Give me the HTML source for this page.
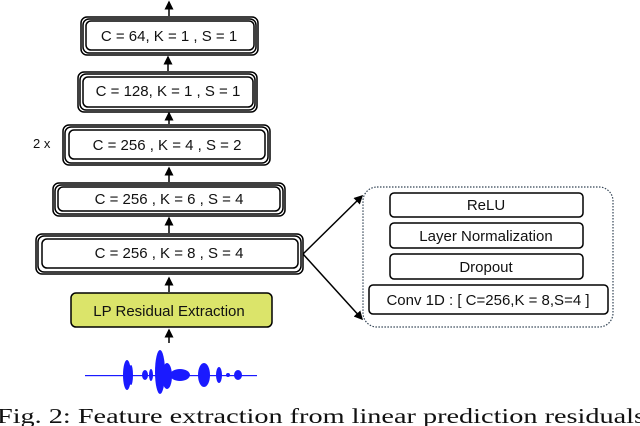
<!DOCTYPE html>
<html><head><style>
html,body{margin:0;padding:0;background:#fff;width:640px;height:426px;overflow:hidden}
svg{display:block}
.t{font-family:"Liberation Sans",sans-serif;font-size:15px;fill:#111}
</style></head><body>
<svg width="640" height="426" viewBox="0 0 640 426">
<defs><marker id="a" markerWidth="6" markerHeight="6" refX="5" refY="3" orient="auto"><path d="M0,0 L6,3 L0,6z" fill="#000"/></marker></defs>
<g fill="#fff" stroke="#000" stroke-width="1.5">
<!-- box1 -->
<rect x="81" y="17" width="177" height="38" rx="6"/><rect x="83" y="19" width="173" height="34" rx="6"/><rect x="86" y="21" width="168" height="29" rx="5"/>
<!-- box2 -->
<rect x="78" y="72" width="179" height="40" rx="6"/><rect x="80" y="74" width="175" height="36" rx="6"/><rect x="83" y="77" width="170" height="30" rx="5"/>
<!-- box3 -->
<rect x="63" y="125" width="207" height="40" rx="6"/><rect x="65" y="127" width="203" height="36" rx="6"/><rect x="69" y="130" width="196" height="29" rx="5"/>
<!-- box4 -->
<rect x="53" y="183" width="232" height="33" rx="6"/><rect x="55" y="185" width="228" height="29" rx="6"/><rect x="58" y="187" width="222" height="24" rx="5"/>
<!-- box5 -->
<rect x="36" y="234" width="267" height="40" rx="6"/><rect x="38" y="236" width="263" height="36" rx="6"/><rect x="42" y="239" width="256" height="29" rx="5"/>
</g>
<rect x="71" y="293" width="201" height="34" rx="5" fill="#dbe46a" stroke="#000" stroke-width="1.5"/>
<g stroke="#000" stroke-width="1.5" marker-end="url(#a)">
<line x1="169" y1="16" x2="169" y2="2"/>
<line x1="168" y1="71" x2="168" y2="57"/>
<line x1="169" y1="124" x2="169" y2="113"/>
<line x1="169" y1="182" x2="169" y2="168"/>
<line x1="169" y1="233" x2="169" y2="218"/>
<line x1="169" y1="292" x2="169" y2="278"/>
<line x1="169" y1="343" x2="169" y2="330"/>
<line x1="303" y1="254" x2="362" y2="196"/>
<line x1="303" y1="254" x2="362" y2="319"/>
</g>
<text class="t" x="169" y="41" text-anchor="middle">C = 64, K = 1 , S = 1</text>
<text class="t" x="168" y="96" text-anchor="middle">C = 128, K = 1 , S = 1</text>
<text class="t" x="167" y="150" text-anchor="middle">C = 256 , K = 4 , S = 2</text>
<text class="t" x="169" y="204" text-anchor="middle">C = 256 , K = 6 , S = 4</text>
<text class="t" x="169" y="258" text-anchor="middle">C = 256 , K = 8 , S = 4</text>
<text class="t" x="169" y="316" text-anchor="middle">LP Residual Extraction</text>
<text class="t" x="33" y="148" style="font-size:13px">2 x</text>
<rect x="363" y="187" width="250" height="140" rx="14" fill="none" stroke="#345" stroke-width="1.2" stroke-dasharray="1.5,1.5"/>
<g fill="#fff" stroke="#000" stroke-width="1.5">
<rect x="390" y="193" width="193" height="24" rx="4"/>
<rect x="390" y="223" width="193" height="25" rx="4"/>
<rect x="390" y="254" width="193" height="25" rx="4"/>
<rect x="369" y="285" width="239" height="29" rx="4"/>
</g>
<text class="t" x="486" y="210" text-anchor="middle">ReLU</text>
<text class="t" x="486" y="241" text-anchor="middle">Layer Normalization</text>
<text class="t" x="486" y="272" text-anchor="middle">Dropout</text>
<text class="t" x="488" y="305" text-anchor="middle">Conv 1D : [ C=256,K = 8,S=4 ]</text>
<g fill="#1a1aff">
<rect x="85" y="375" width="172" height="1.2"/>
<ellipse cx="127" cy="375" rx="4" ry="15"/><ellipse cx="131" cy="375" rx="2" ry="10"/>
<ellipse cx="145" cy="375" rx="3" ry="5"/><ellipse cx="151" cy="375" rx="2" ry="6"/>
<ellipse cx="160" cy="372" rx="5" ry="22"/><ellipse cx="167" cy="376" rx="5" ry="13"/>
<ellipse cx="180" cy="375" rx="10" ry="6"/><ellipse cx="204" cy="375" rx="6" ry="12"/>
<ellipse cx="219" cy="375" rx="3" ry="8"/><ellipse cx="228" cy="375" rx="2" ry="2"/>
<ellipse cx="238" cy="375" rx="4" ry="5"/>
</g>
<text x="-3" y="423" textLength="648" lengthAdjust="spacingAndGlyphs" style="font-family:'Liberation Serif',serif;font-size:21px;fill:#111">Fig. 2: Feature extraction from linear prediction residuals</text>
</svg>
</body></html>
